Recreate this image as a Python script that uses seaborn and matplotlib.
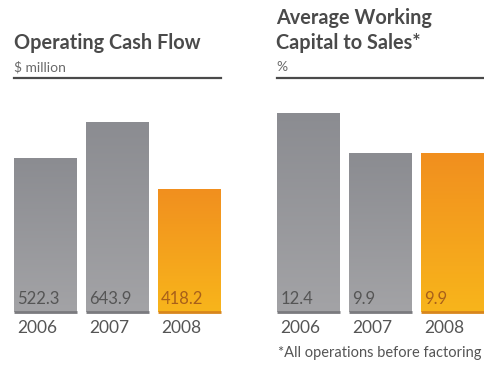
import numpy as np
import pandas as pd
import matplotlib
matplotlib.use("Agg")
import matplotlib.pyplot as plt
import seaborn as sns
from matplotlib.colors import LinearSegmentedColormap

years = ["2006", "2007", "2008"]
cash_flow = [522.3, 643.9, 418.2]
cash_labels = ["522.3", "643.9", "418.2"]
wc_sales = [12.4, 9.9, 9.9]
wc_labels = ["12.4", "9.9", "9.9"]

sns.set_theme(style="white")
plt.rcParams["font.family"] = ["Lato", "DejaVu Sans"]

W, H = 485, 366
fig = plt.figure(figsize=(W / 100, H / 100), dpi=100)

def px(x, y):
    return x / W, 1 - y / H

base_y = 312
top_y = 78
ax_h = (base_y - top_y) / H
ax_b = 1 - base_y / H

ax1 = fig.add_axes([14 / W, ax_b, 207 / W, ax_h])
ax2 = fig.add_axes([277 / W, ax_b, 207 / W, ax_h])

gray_top, gray_bot = "#8b8c91", "#a3a3a6"
or_top, or_bot = "#f18f1f", "#f8b51b"

def draw(ax, vals, labels, ymax):
    df = pd.DataFrame({"year": years, "v": vals})
    sns.barplot(data=df, x="year", y="v", ax=ax, width=0.875,
                color=gray_top, saturation=1, edgecolor="none")
    ax.set_xlim(-0.4375, 2.4375)
    ax.set_ylim(0, ymax)
    ax.set_xlabel("")
    ax.set_ylabel("")
    ax.set_xticks([])
    ax.set_yticks([])
    for s in ["left", "right", "bottom"]:
        ax.spines[s].set_visible(False)
    ax.spines["top"].set_visible(True)
    ax.spines["top"].set_color("#4a4a4a")
    ax.spines["top"].set_linewidth(1.6)
    grad = np.linspace(0, 1, 256).reshape(-1, 1)
    for i, p in enumerate(ax.patches):
        x0, y0 = p.get_x(), p.get_y()
        w, h = p.get_width(), p.get_height()
        if i == 2:
            cmap = LinearSegmentedColormap.from_list("o", [or_bot, or_top])
            tc = "#a8601a"
        else:
            cmap = LinearSegmentedColormap.from_list("g", [gray_bot, gray_top])
            tc = "#555555"
        im = ax.imshow(grad, extent=[x0, x0 + w, y0, y0 + h], origin="lower",
                       cmap=cmap, aspect="auto", zorder=p.get_zorder() + 0.1)
        im.set_clip_path(p)
        p.set_alpha(0)
        ax.plot([x0, x0 + w], [0, 0], color="#7a7a7e" if i < 2 else "#d8861c",
                lw=2, solid_capstyle="butt", zorder=5, clip_on=False)
        ax.text(x0 + w * 0.05, 0.055, labels[i], transform=ax.get_xaxis_transform(),
                ha="left", va="center", fontsize=12, color=tc, zorder=6)
        ax.text(x0 + w * 0.05, -0.07, years[i], transform=ax.get_xaxis_transform(),
                ha="left", va="center", fontsize=12.5, color="#555555")
    ax.set_xlim(-0.4375, 2.4375)
    ax.set_ylim(0, ymax)

draw(ax1, cash_flow, cash_labels, 793)
draw(ax2, wc_sales, wc_labels, 14.58)

tc = "#4a4a4a"
fig.text(*px(14, 43), "Operating Cash Flow", fontsize=14.3, fontweight="bold",
         color=tc, va="center", ha="left")
fig.text(*px(14, 67), "$ million", fontsize=10, color="#6a6a6a", va="center", ha="left")
fig.text(*px(276, 18), "Average Working", fontsize=14.3, fontweight="bold",
         color=tc, va="center", ha="left")
fig.text(*px(276, 43), "Capital to Sales*", fontsize=14.3, fontweight="bold",
         color=tc, va="center", ha="left")
fig.text(*px(276, 67), "%", fontsize=10, color="#6a6a6a", va="center", ha="left")
fig.text(*px(278, 353), "*All operations before factoring", fontsize=10.5,
         color="#555555", va="center", ha="left")

fig.savefig("out.png", dpi=100)
